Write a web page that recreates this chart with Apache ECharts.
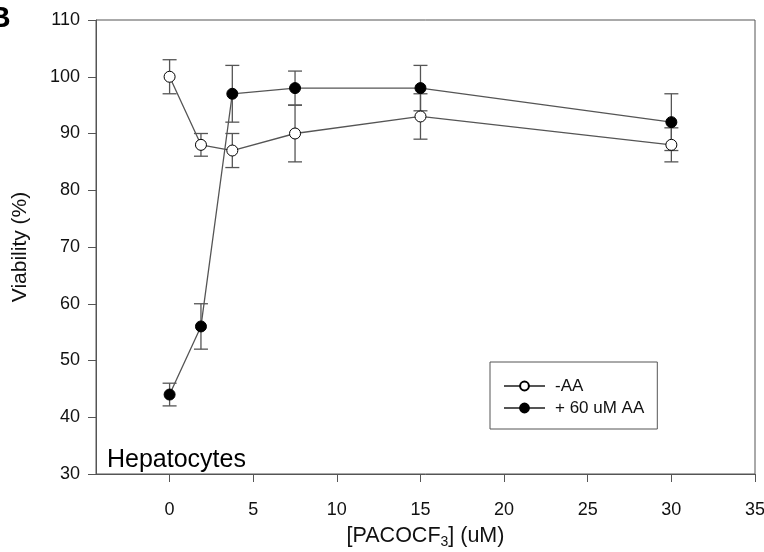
<!DOCTYPE html>
<html>
<head>
<meta charset="utf-8">
<script src="https://cdn.jsdelivr.net/npm/echarts@6/dist/echarts.min.js"></script>
<style>
  html, body { margin: 0; padding: 0; background: #fff; }
  #chart { width: 764px; height: 552px; }
</style>
</head>
<body>
<div id="chart"></div>
<script>
// PACOCF3 concentration (uM)
var doses = [0, 1.875, 3.75, 7.5, 15, 30];
// viability without arachidonic acid
var viabNoAA = [100, 88, 87, 90, 93, 88];
var errNoAA = [3, 2, 3, 5, 4, 3];
// viability with 60 uM AA
var viabAA = [44, 56, 97, 98, 98, 92];
var errAA = [2, 4, 5, 3, 4, 5];
var xTicks = [0, 5, 10, 15, 20, 25, 30, 35];
var seriesNames = ['-AA', '+ 60 uM AA'];

var font = "'Liberation Sans', Arial, sans-serif";
var axisColor = '#555';

function pairs(xs, ys) {
    var out = [];
    for (var i = 0; i < xs.length; i++) out.push([xs[i], ys[i]]);
    return out;
}
function bars(xs, ys, es) {
    var out = [];
    for (var i = 0; i < xs.length; i++) out.push([xs[i], ys[i] - es[i], ys[i] + es[i]]);
    return out;
}

function renderErr(params, api) {
    var x = api.value(0);
    var lo = api.coord([x, api.value(1)]);
    var hi = api.coord([x, api.value(2)]);
    var w = 7;
    var st = { stroke: axisColor, lineWidth: 1.3 };
    return {
        type: 'group',
        children: [
            { type: 'line', shape: { x1: hi[0], y1: hi[1], x2: lo[0], y2: lo[1] }, style: st },
            { type: 'line', shape: { x1: hi[0] - w, y1: hi[1], x2: hi[0] + w, y2: hi[1] }, style: st },
            { type: 'line', shape: { x1: lo[0] - w, y1: lo[1], x2: lo[0] + w, y2: lo[1] }, style: st }
        ]
    };
}

var myChart = echarts.init(document.getElementById('chart'));

var option = {
    animation: false,
    textStyle: { fontFamily: font },
    grid: {
        left: 96, right: 9, top: 20, bottom: 78,
        outerBoundsMode: 'none',
        show: true, borderColor: axisColor, borderWidth: 1
    },
    legend: {
        orient: 'vertical',
        left: 490, top: 362,
        data: seriesNames,
        itemWidth: 41, itemHeight: 11, itemGap: 4,
        padding: [15, 13, 12, 13],
        borderColor: axisColor, borderWidth: 1, backgroundColor: '#fff',
        textStyle: { fontSize: 17, color: '#111', lineHeight: 18, padding: [0, 0, 0, 5] }
    },
    xAxis: {
        type: 'value',
        min: -4.4, max: 35,
        name: '{a|[PACOCF}{s|3}{a|] (uM)}',
        nameLocation: 'middle',
        nameGap: 50,
        nameTextStyle: {
            rich: {
                a: { fontSize: 21.5, color: '#111', lineHeight: 25, verticalAlign: 'middle', fontFamily: font },
                s: { fontSize: 14, color: '#111', lineHeight: 12, verticalAlign: 'bottom', fontFamily: font }
            }
        },
        axisLine: { onZero: false, lineStyle: { color: axisColor } },
        axisTick: { show: true, length: 8, customValues: xTicks, lineStyle: { color: axisColor } },
        axisLabel: { customValues: xTicks, fontSize: 18, color: '#111', margin: 27 },
        splitLine: { show: false }
    },
    yAxis: {
        type: 'value',
        min: 30, max: 110, interval: 10,
        name: 'Viability (%)',
        nameLocation: 'middle',
        nameGap: 65,
        nameTextStyle: { fontSize: 21, color: '#111' },
        axisLine: { onZero: false, lineStyle: { color: axisColor } },
        axisTick: { length: 8, lineStyle: { color: axisColor } },
        axisLabel: { fontSize: 18, color: '#111', margin: 16 },
        splitLine: { show: false }
    },
    graphic: [
        { type: 'text', left: -11, top: 4, style: { text: 'B', font: 'bold 30px ' + font, fill: '#000' } },
        { type: 'text', left: 107, top: 448, style: { text: 'Hepatocytes', font: '25px ' + font, fill: '#000' } }
    ],
    series: [
        {
            type: 'custom', name: 'errNoAA', renderItem: renderErr, z: 1,
            data: bars(doses, viabNoAA, errNoAA), encode: { x: 0, y: [1, 2] }, silent: true
        },
        {
            type: 'custom', name: 'errAA', renderItem: renderErr, z: 1,
            data: bars(doses, viabAA, errAA), encode: { x: 0, y: [1, 2] }, silent: true
        },
        {
            name: seriesNames[0], type: 'line', z: 3,
            data: pairs(doses, viabNoAA),
            symbol: 'circle', symbolSize: 11,
            lineStyle: { color: axisColor, width: 1.3 },
            itemStyle: { color: '#fff', borderColor: '#000', borderWidth: 1 }
        },
        {
            name: seriesNames[1], type: 'line', z: 4,
            data: pairs(doses, viabAA),
            symbol: 'circle', symbolSize: 11,
            lineStyle: { color: axisColor, width: 1.3 },
            itemStyle: { color: '#000', borderColor: '#000', borderWidth: 1 }
        }
    ]
};

myChart.setOption(option);
</script>
</body>
</html>
